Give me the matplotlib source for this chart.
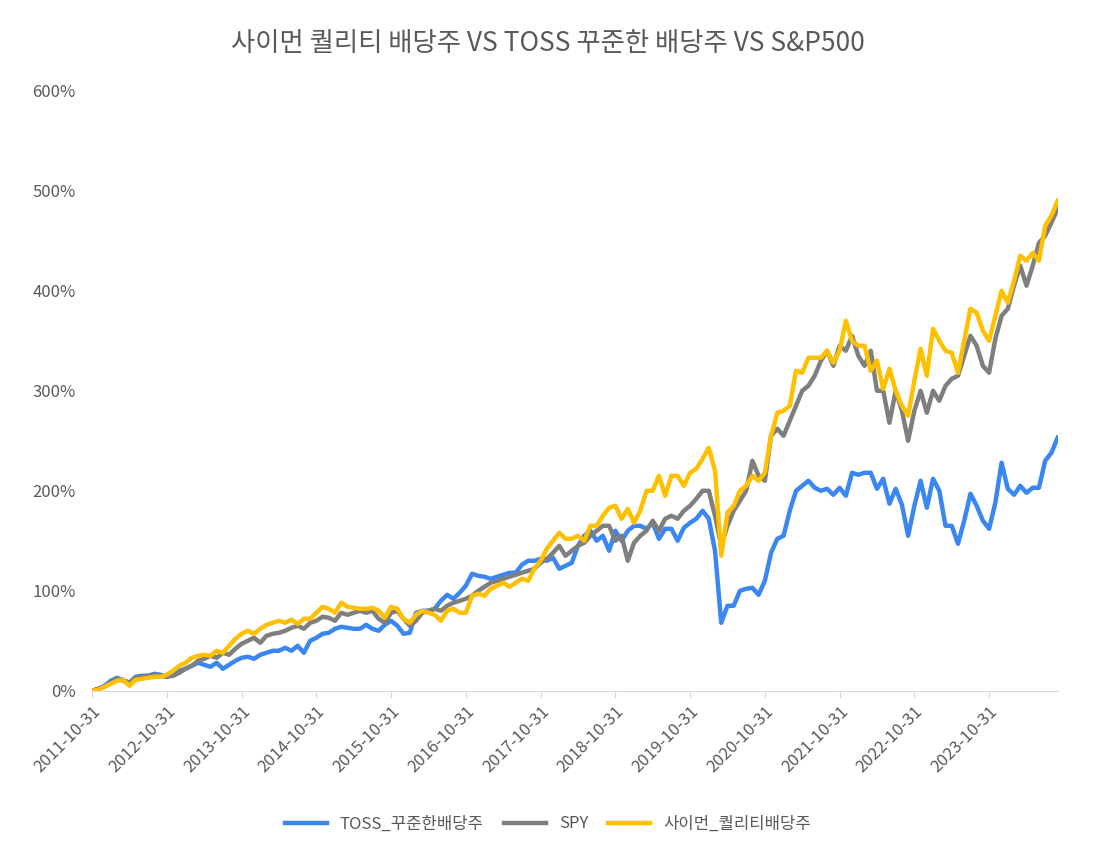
import matplotlib
matplotlib.use("Agg")
import matplotlib.pyplot as plt
from matplotlib import font_manager
import pandas as pd

cjk = sorted({f.name for f in font_manager.fontManager.ttflist if "CJK" in f.name})
pref = [n for n in ["Noto Sans CJK KR", "Noto Sans CJK JP", "Noto Sans CJK SC"] if n in cjk] + cjk
plt.rcParams["font.family"] = pref[:1] + ["DejaVu Sans"] if pref else ["DejaVu Sans"]

dates = pd.date_range("2011-10-31", periods=156, freq="ME")

spy = [0,2,4,8,12,11,8,13,14,15,16,15,
 14,15,18,22,25,30,32,35,33,38,36,42,
 47,50,53,48,55,57,58,60,63,65,62,68,
 70,74,73,70,78,76,78,80,78,80,72,68,
 78,80,72,65,70,78,80,82,80,85,88,90,
 92,95,100,104,108,110,112,114,116,118,120,122,
 128,132,138,145,135,140,145,148,155,160,165,165,
 150,155,130,148,155,160,170,160,172,175,172,180,
 185,192,200,200,175,145,165,180,190,200,230,215,
 210,255,262,255,270,285,300,305,315,330,340,325,
 345,340,355,335,325,340,300,300,268,300,280,250,
 280,300,278,300,290,305,312,315,335,355,345,325,
 318,352,375,382,405,425,405,425,448,455,468,482]

simon = [0,1,4,7,10,11,5,11,12,13,14,14,
 16,20,25,28,33,35,36,35,40,38,45,52,
 57,60,57,62,66,68,70,68,71,67,72,72,
 78,84,82,78,88,84,83,82,82,83,80,73,
 84,82,72,68,76,80,78,76,70,80,82,78,
 78,95,97,95,102,105,108,104,108,112,110,122,
 130,142,150,158,152,152,155,150,165,165,175,183,
 185,172,182,168,180,200,200,215,195,215,215,205,
 218,222,232,243,220,135,178,185,200,205,215,210,
 218,255,278,280,285,320,318,333,333,333,340,328,
 340,370,350,345,345,320,330,302,322,300,285,275,
 310,342,315,362,350,340,338,318,350,382,378,360,
 350,375,400,388,410,435,430,438,430,465,475,490]

toss = [0,2,5,10,13,10,8,14,15,15,17,16,
 14,17,20,22,25,28,26,24,28,22,26,30,
 33,34,32,36,38,40,40,43,40,45,38,50,
 53,57,58,62,64,63,62,62,66,62,60,66,
 70,65,57,58,78,80,80,82,90,96,92,98,
 105,117,115,114,112,114,116,118,118,126,130,130,
 132,130,133,122,125,128,145,155,160,150,155,140,
 160,150,160,165,165,162,168,152,162,162,150,163,
 168,172,180,172,140,68,85,85,100,102,103,96,
 110,138,152,155,180,200,205,210,203,200,202,196,
 203,195,218,216,218,218,202,212,187,202,186,155,
 185,210,183,212,200,165,165,147,170,197,185,170,
 162,188,228,202,196,205,198,203,203,230,238,253]

tick_labels = [f"{y}-10-31" for y in range(2011, 2024)]

fig = plt.figure(figsize=(10.96, 8.56), dpi=100)
ax = fig.add_axes([0.084, 0.193, 0.881, 0.701])
x = range(len(dates))
ax.plot(x, toss, color="#3a86f2", lw=3.2, label="TOSS_꾸준한배당주")
ax.plot(x, spy, color="#7f7f7f", lw=3.2, label="SPY")
ax.plot(x, simon, color="#ffc000", lw=3.2, label="사이먼_퀄리티배당주")
ax.set_xlim(0, len(dates) - 1)
ax.set_ylim(0, 600)
ax.set_yticks(range(0, 601, 100))
ax.set_yticklabels([f"{v}%" for v in range(0, 601, 100)], color="#595959", fontsize=12)
ax.set_xticks(range(0, 156, 12))
ax.set_xticklabels(tick_labels, rotation=45, ha="right", rotation_mode="anchor", color="#595959", fontsize=12)
for s in ["top", "right", "left"]:
    ax.spines[s].set_visible(False)
ax.spines["bottom"].set_color("#d9d9d9")
ax.tick_params(axis="y", length=0, pad=12)
ax.tick_params(axis="x", length=5, color="#d9d9d9")
fig.suptitle("사이먼 퀄리티 배당주 VS TOSS 꾸준한 배당주 VS S&P500", y=0.965, fontsize=19, color="#595959")
fig.legend(loc="lower center", bbox_to_anchor=(0.5, 0.01), ncol=3, frameon=False, fontsize=12,
           labelcolor="#595959", handlelength=2.5, columnspacing=1.2)
fig.savefig("out.png", dpi=100)
